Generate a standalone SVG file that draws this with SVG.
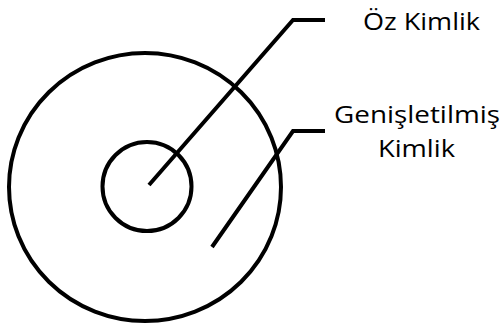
<svg xmlns="http://www.w3.org/2000/svg" width="502" height="325" viewBox="0 0 502 325">
<style>
.c{fill:none;stroke:#000;stroke-width:4}
.l{fill:none;stroke:#000;stroke-width:4;stroke-linejoin:miter}
.t{font-family:"Open Sans","DejaVu Sans",sans-serif;font-size:24px;fill:#000}
</style>
<rect width="502" height="325" fill="#fff"/>
<g id="outer"><ellipse class="c" cx="145" cy="187" rx="136" ry="134"/></g>
<g id="inner"><circle class="c" cx="147" cy="186.5" r="44.5"/></g>
<g id="connectors">
<polyline class="l" points="149,185 293,20 325,20"/>
<polyline class="l" points="212,247 293,131 325,131"/>
</g>
<g id="label-oz"><text class="t" x="363" y="30" textLength="117" lengthAdjust="spacingAndGlyphs">Öz Kimlik</text></g>
<g id="label-gen"><text class="t" x="334" y="123" textLength="166" lengthAdjust="spacingAndGlyphs">Genişletilmiş</text><text class="t" x="378" y="157" textLength="77" lengthAdjust="spacingAndGlyphs">Kimlik</text></g>
</svg>
